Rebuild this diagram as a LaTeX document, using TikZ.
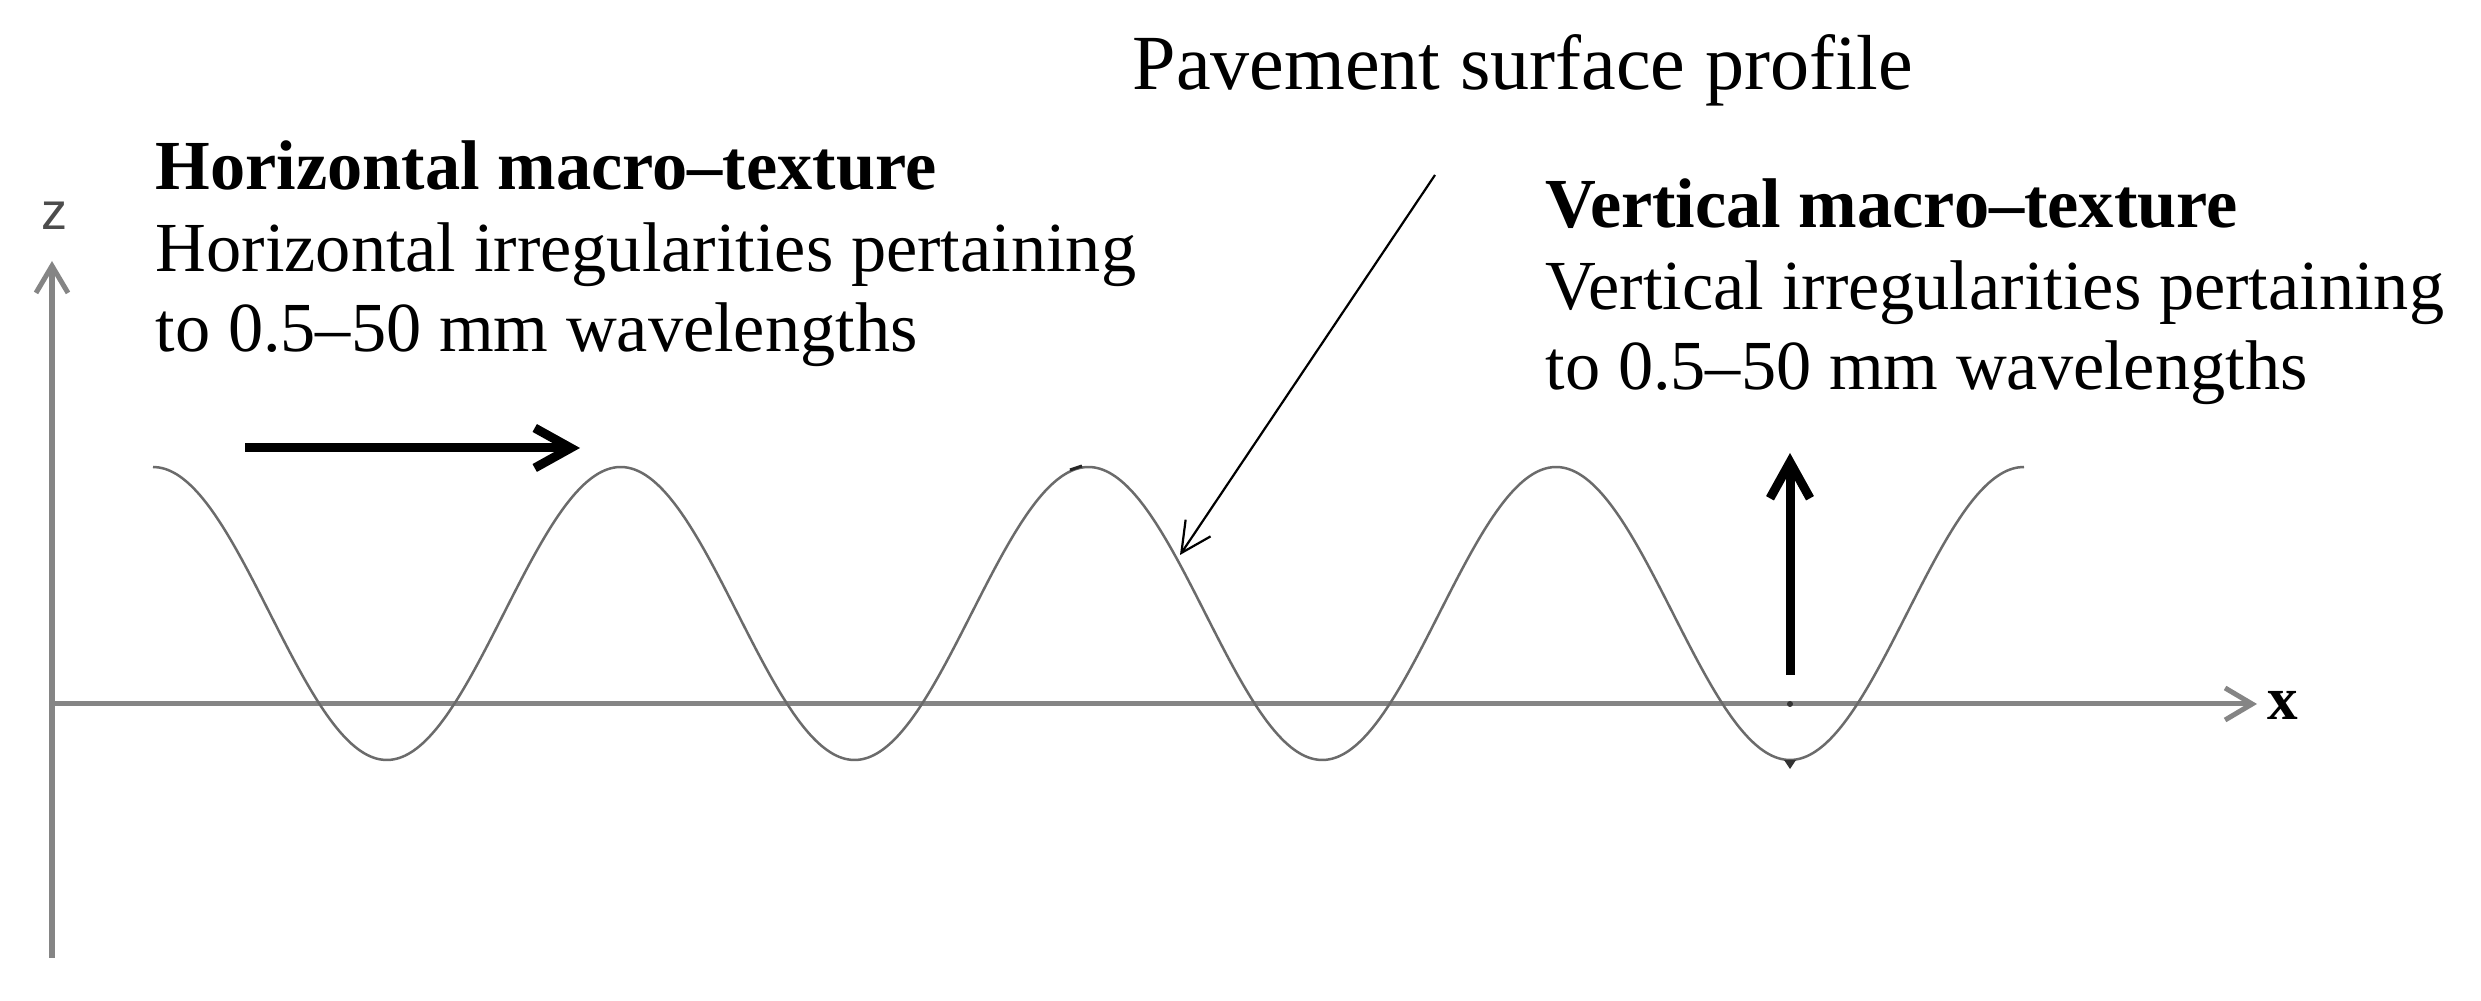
\documentclass[tikz,border=0pt]{standalone}
\usepackage{fontspec}
\setmainfont{Liberation Serif}
\newfontfamily\zfont{Liberation Sans}
\usetikzlibrary{arrows.meta}
\tikzset{
  axisline/.style={draw=black!48, line width=0.05cm,
    -{Straight Barb[length=0.27cm,width=0.32cm]}},
  wave/.style={draw=black!58, line width=0.025cm},
  boldarrow/.style={draw=black, line width=0.09cm,
    -{Straight Barb[length=0.36cm,width=0.40cm]}},
  pointer/.style={draw=black, line width=0.022cm,
    -{Straight Barb[length=0.30cm,width=0.30cm]}},
  txt/.style={inner sep=0pt, anchor=base west, font=\fontsize{20pt}{23pt}\selectfont},
  bigtxt/.style={inner sep=0pt, anchor=base west, font=\fontsize{22.2pt}{26pt}\selectfont},
}
\begin{document}
\begin{tikzpicture}[x=0.01cm,y=-0.01cm]
\useasboundingbox (0,0) rectangle (2481,1001);

% axes
\coordinate (zbot) at (52,958);
\coordinate (ztop) at (52,261);
\coordinate (xorg) at (52,704);
\coordinate (xend) at (2257,704);
\draw[axisline] (zbot) -- (ztop);
\draw[axisline] (xorg) -- (xend);
\node[inner sep=0pt, anchor=base, text=black!70, font=\zfont\fontsize{14.8pt}{16pt}\selectfont] (zlab) at (55,230) {z};
\node[inner sep=0pt, anchor=base west, font=\bfseries\fontsize{17.4pt}{19pt}\selectfont] (xlab) at (2267,720) {x};

% surface profile
\draw[wave] plot[domain=153:2024, samples=320, smooth] (\x, {613.5 - 146.5*cos(((\x-153)/467.7)*360)});

% tiny marks
\fill[black!80] (1790,704) circle (3);
\fill[black!80] (1784,760) -- (1796,760) -- (1790,769) -- cycle;
\draw[black!85, line width=0.03cm] (1070,470) -- (1082,466);

% texts
\node[txt] (h1) at (155,190) {\bfseries Horizontal macro–texture};
\node[txt] (h2) at (155,272) {Horizontal irregularities pertaining};
\node[txt] (h3) at (155,352) {to 0.5–50 mm wavelengths};
\node[txt] (v1) at (1545,228) {\bfseries Vertical macro–texture};
\node[txt] (v2) at (1545,310) {Vertical irregularities pertaining};
\node[txt] (v3) at (1545,390) {to 0.5–50 mm wavelengths};
\node[bigtxt] (pav) at (1132,90) {Pavement surface profile};

% arrows
\coordinate (ha) at (245,448);
\coordinate (hb) at (580,448);
\draw[boldarrow] (ha) -- (hb);
\coordinate (va) at (1790,675);
\coordinate (vb) at (1790,453);
\draw[boldarrow] (va) -- (vb);
\coordinate (pa) at (1435,175);
\coordinate (pb) at (1180,555);
\draw[pointer] (pa) -- (pb);
\end{tikzpicture}
\end{document}
